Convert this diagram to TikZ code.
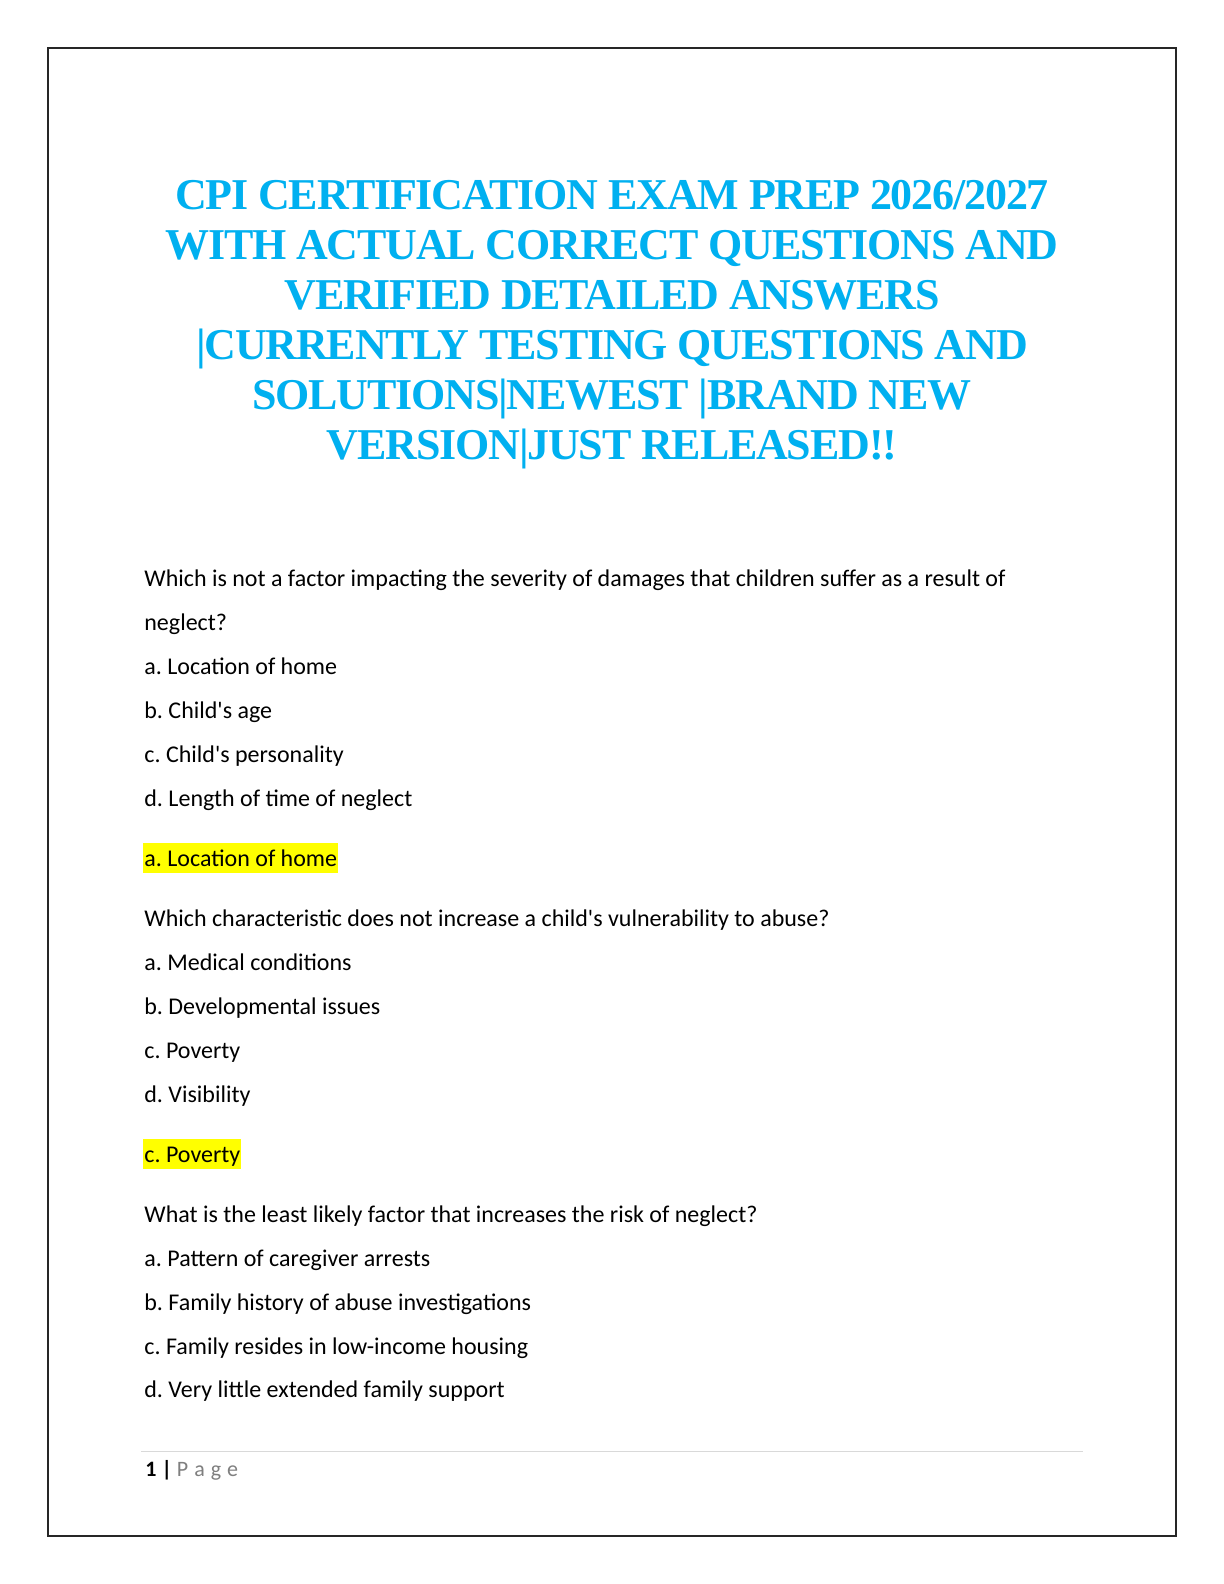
\documentclass[tikz,border=0pt]{standalone}
\usepackage{fontspec}
\setmainfont{Carlito}
\newfontfamily\titlefont{Liberation Serif}[LetterSpace=-2.7]
\definecolor{titleblue}{HTML}{00B0F0}
\definecolor{pagegray}{HTML}{7F7F7F}
\definecolor{rulegray}{HTML}{D9D9D9}
\definecolor{hiyellow}{HTML}{FFFF00}
\frenchspacing
\newcommand{\sq}{\textquotesingle}
\tikzset{
  titleline/.style={anchor=base, inner sep=0pt, text=titleblue,
    font=\titlefont\bfseries\fontsize{22bp}{25bp}\selectfont},
  bodyline/.style={anchor=base west, inner sep=0pt,
    font=\fontsize{12bp}{14bp}\selectfont},
  answerline/.style={bodyline, fill=hiyellow, inner xsep=0.5bp,
    text height=11.5bp, text depth=3.5bp},
  footline/.style={anchor=base west, inner sep=0pt,
    font=\fontsize{11bp}{13bp}\selectfont},
}
\begin{document}
\begin{tikzpicture}[x=0.5bp,y=-0.5bp]
\useasboundingbox (0,0) rectangle (1224,1584);
\fill[white] (0,0) rectangle (1224,1584);
\draw[line width=0.75bp, black!85] (48,48) rectangle (1176,1536);

\node[titleline] (t1) at (612,209) {CPI CERTIFICATION EXAM PREP 2026/2027};
\node[titleline] (t2) at (612,259) {WITH ACTUAL CORRECT QUESTIONS AND};
\node[titleline] (t3) at (612,309) {VERIFIED DETAILED ANSWERS};
\node[titleline] (t4) at (612,359) {|CURRENTLY TESTING QUESTIONS AND};
\node[titleline] (t5) at (612,409) {SOLUTIONS|NEWEST |BRAND NEW};
\node[titleline] (t6) at (612,459) {VERSION|JUST RELEASED!!};

\node[bodyline] (q1) at (144,586) {Which is not a factor impacting the severity of damages that children suffer as a result of};
\node[bodyline] (q1b) at (144,630) {neglect?};
\node[bodyline] (q1a) at (144,674) {a. Location of home};
\node[bodyline] (q1o2) at (144,718) {b. Child\sq s age};
\node[bodyline] (q1o3) at (144,762) {c. Child\sq s personality};
\node[bodyline] (q1o4) at (144,806) {d. Length of time of neglect};
\node[answerline] (q1ans) at (143,866) {a. Location of home};

\node[bodyline] (q2) at (144,926) {Which characteristic does not increase a child\sq s vulnerability to abuse?};
\node[bodyline] (q2a) at (144,970) {a. Medical conditions};
\node[bodyline] (q2o2) at (144,1014) {b. Developmental issues};
\node[bodyline] (q2o3) at (144,1058) {c. Poverty};
\node[bodyline] (q2o4) at (144,1102) {d. Visibility};
\node[answerline] (q2ans) at (143,1162) {c. Poverty};

\node[bodyline] (q3) at (144,1222) {What is the least likely factor that increases the risk of neglect?};
\node[bodyline] (q3a) at (144,1266) {a. Pattern of caregiver arrests};
\node[bodyline] (q3o2) at (144,1310) {b. Family history of abuse investigations};
\node[bodyline] (q3o3) at (144,1354) {c. Family resides in low-income housing};
\node[bodyline] (q3o4) at (144,1397) {d. Very little extended family support};

\draw[rulegray, line width=0.5bp] (141,1451.5) -- (1083,1451.5);
\node[footline] (pg) at (145,1476) {\textbf{1 |} {\color{pagegray}P\hspace{3bp}a\hspace{3bp}g\hspace{3bp}e}};
\end{tikzpicture}
\end{document}
